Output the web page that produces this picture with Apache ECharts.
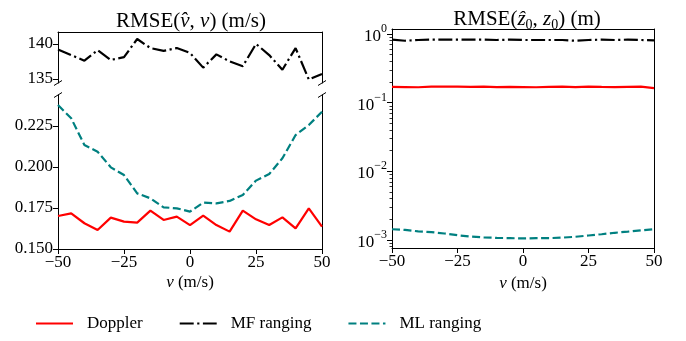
<!DOCTYPE html>
<html>
<head>
<meta charset="utf-8">
<script src="https://cdn.jsdelivr.net/npm/echarts@6/dist/echarts.min.js"></script>
<style>
html, body { margin: 0; padding: 0; background: #fff; }
#chart { width: 686px; height: 341px; }
</style>
</head>
<body>
<div id="chart"></div>
<script>
// velocity grid (m/s)
const velocity = [-50, -45, -40, -35, -30, -25, -20, -15, -10, -5, 0, 5, 10, 15, 20, 25, 30, 35, 40, 45, 50];

// RMSE of velocity (m/s)
const dopplerVel = [0.1701, 0.1717, 0.1657, 0.1616, 0.1691, 0.1667, 0.1661, 0.1734, 0.1677, 0.1697, 0.1646,
  0.1703, 0.1646, 0.1606, 0.1734, 0.1681, 0.1646, 0.1693, 0.1626, 0.1748, 0.1636];
const mlVel = [0.2378, 0.2297, 0.2134, 0.2093, 0.1998, 0.1951, 0.1839, 0.1809, 0.1754, 0.1748, 0.1728,
  0.1783, 0.1778, 0.1793, 0.1829, 0.1917, 0.1957, 0.2053, 0.2195, 0.2256, 0.2337];
const mfVel = [139.2, 138.4, 137.6, 139.1, 137.7, 138.1, 140.7, 139.4, 139.0, 139.4, 138.7,
  136.6, 138.5, 137.5, 136.8, 140.0, 138.4, 136.3, 139.4, 134.9, 135.7];

// RMSE of range (m)
const dopplerRange = [0.170, 0.169, 0.168, 0.171, 0.171, 0.172, 0.170, 0.171, 0.169, 0.170, 0.169,
  0.168, 0.170, 0.171, 0.169, 0.172, 0.170, 0.169, 0.170, 0.171, 0.163];
const mfRange = [0.83, 0.80, 0.82, 0.83, 0.83, 0.83, 0.83, 0.83, 0.82, 0.83, 0.82,
  0.82, 0.82, 0.82, 0.80, 0.82, 0.83, 0.82, 0.83, 0.82, 0.81];
const mlRange = [0.00143, 0.00140, 0.00133, 0.00130, 0.00124, 0.00117, 0.00112, 0.00109, 0.00107, 0.00106, 0.00105,
  0.00106, 0.00106, 0.00108, 0.00111, 0.00116, 0.00121, 0.00127, 0.00132, 0.00138, 0.00143];

// tick values
const velTopTicks = [135, 140];
const velBottomTicks = [0.150, 0.175, 0.200, 0.225];
const rangeMajorTicks = [0.001, 0.01, 0.1, 1];
const rangeMinorTicks = [0.0008, 0.0009,
  0.002, 0.003, 0.004, 0.005, 0.006, 0.007, 0.008, 0.009,
  0.02, 0.03, 0.04, 0.05, 0.06, 0.07, 0.08, 0.09,
  0.2, 0.3, 0.4, 0.5, 0.6, 0.7, 0.8, 0.9];

const FONT = 'Liberation Serif';
const RED = '#ff0000', BLACK = '#000000', TEAL = '#008080';
const LW = 2.2;

const chart = echarts.init(document.getElementById('chart'));

const pair = (xs, ys) => xs.map((x, i) => [x, ys[i]]);
const minus = v => String(v).replace('-', '\u2212');

const labelStyle = { fontFamily: FONT, fontSize: 17, color: '#000' };
const axisLine = { show: true, onZero: false, lineStyle: { color: '#000', width: 1 } };
const tick = { show: true, length: 5, lineStyle: { color: '#000', width: 1 } };

// plain spine (line only)
const spine = (extra) => Object.assign({
  type: 'value', axisLine: axisLine, axisTick: { show: false }, axisLabel: { show: false },
  splitLine: { show: false }
}, extra);

const xName = {
  name: '{i|v}{a| (m/s)}', nameLocation: 'middle', nameGap: 25,
  nameTextStyle: { rich: {
    i: { fontFamily: FONT, fontSize: 17, fontStyle: 'italic', color: '#000' },
    a: { fontFamily: FONT, fontSize: 17, color: '#000' }
  } }
};

const xBottom = (grid) => Object.assign({
  type: 'value', gridIndex: grid, min: -50, max: 50, interval: 25, position: 'bottom',
  axisLine: axisLine, axisTick: tick, splitLine: { show: false },
  axisLabel: Object.assign({ margin: 5, formatter: minus }, labelStyle)
}, xName);

const titleRich = {
  a: { fontFamily: FONT, fontSize: 21, fontWeight: 'normal', color: '#000', lineHeight: 26, verticalAlign: 'middle' },
  i: { fontFamily: FONT, fontSize: 21, fontWeight: 'normal', fontStyle: 'italic', color: '#000', lineHeight: 26, verticalAlign: 'middle' },
  s: { fontFamily: FONT, fontSize: 14, fontWeight: 'normal', color: '#000', lineHeight: 26, verticalAlign: 'bottom' }
};

const lineSeries = (name, data, color, type, xi, yi) => ({
  name: name, type: 'line', data: data, xAxisIndex: xi, yAxisIndex: yi,
  symbol: 'none', showSymbol: false, clip: true,
  lineStyle: { color: color, width: LW, type: type }, itemStyle: { color: color },
  emphasis: { disabled: true }
});

const DASH = [8, 3.5];
const DASHDOT = [14, 3.5, 2.2, 3.5];

chart.setOption({
  animation: false,
  backgroundColor: '#fff',
  title: [
    { text: '{a|RMSE(}{i|v\u0302}{a|, }{i|v}{a|) (m/s)}', left: 186, top: 3, textAlign: 'center',
      textStyle: { fontWeight: 'normal', rich: titleRich } },
    { text: '{a|RMSE(}{i|z\u0302}{s|0}{a|, }{i|z}{s|0}{a|) (m)}', left: 522, top: 1, textAlign: 'center',
      textStyle: { fontWeight: 'normal', rich: titleRich } }
  ],
  legend: {
    data: ['Doppler', 'MF ranging', 'ML ranging'],
    left: 35, top: 315, padding: 0, itemGap: 36, itemWidth: 37, itemHeight: 14,
    itemStyle: { opacity: 0 },
    textStyle: { fontFamily: FONT, fontSize: 17, color: '#000', padding: [0, 0, 0, 9] }
  },
  grid: [
    { left: 58, top: 32, width: 264, height: 51 },
    { left: 58, top: 95, width: 264, height: 154 },
    { left: 392, top: 29, width: 262, height: 219 }
  ],
  xAxis: [
    spine({ gridIndex: 0, min: -50, max: 50, position: 'top' }),
    xBottom(1),
    xBottom(2),
    spine({ gridIndex: 2, min: -50, max: 50, position: 'top' })
  ],
  yAxis: [
    { type: 'value', gridIndex: 0, min: 134.4, max: 141.7, position: 'left',
      axisLine: axisLine, splitLine: { show: false },
      axisTick: Object.assign({ customValues: velTopTicks }, tick),
      axisLabel: Object.assign({ customValues: velTopTicks, margin: 5, formatter: v => String(v) }, labelStyle) },
    spine({ gridIndex: 0, min: 134.4, max: 141.7, position: 'right' }),
    { type: 'value', gridIndex: 1, min: 0.15, max: 0.2439, position: 'left',
      axisLine: axisLine, splitLine: { show: false },
      axisTick: Object.assign({ customValues: velBottomTicks }, tick),
      axisLabel: Object.assign({ customValues: velBottomTicks, margin: 5, formatter: v => v.toFixed(3) }, labelStyle) },
    spine({ gridIndex: 1, min: 0.15, max: 0.2439, position: 'right' }),
    { type: 'log', gridIndex: 2, min: 0.000762, max: 1.186, position: 'left',
      axisLine: axisLine, splitLine: { show: false },
      axisTick: Object.assign({ customValues: rangeMajorTicks }, tick),
      axisLabel: {
        customValues: rangeMajorTicks, margin: 5,
        formatter: v => '{b|10}{e|' + minus(Math.round(Math.log10(v))) + '}',
        rich: {
          b: { fontFamily: FONT, fontSize: 17, color: '#000', lineHeight: 22, verticalAlign: 'bottom' },
          e: { fontFamily: FONT, fontSize: 12, color: '#000', lineHeight: 22, verticalAlign: 'top' }
        }
      } },
    { type: 'log', gridIndex: 2, min: 0.000762, max: 1.186, position: 'left',
      axisLine: { show: false, onZero: false }, splitLine: { show: false }, axisLabel: { show: false },
      axisTick: { show: true, length: 2.5, customValues: rangeMinorTicks, lineStyle: { color: '#000', width: 0.8 } } },
    spine({ gridIndex: 2, min: 0, max: 1, position: 'right' })
  ],
  graphic: [58, 322].flatMap(x => [83, 95].map(y => ({
    type: 'line', silent: true,
    shape: { x1: x - 4, y1: y + 2.5, x2: x + 4, y2: y - 2.5 },
    style: { stroke: '#000', lineWidth: 1 }
  }))),
  series: [
    lineSeries('Doppler', pair(velocity, dopplerVel), RED, 'solid', 1, 2),
    lineSeries('MF ranging', pair(velocity, mfVel), BLACK, DASHDOT, 0, 0),
    lineSeries('ML ranging', pair(velocity, mlVel), TEAL, DASH, 1, 2),
    lineSeries('Doppler', pair(velocity, dopplerRange), RED, 'solid', 2, 4),
    lineSeries('MF ranging', pair(velocity, mfRange), BLACK, DASHDOT, 2, 4),
    lineSeries('ML ranging', pair(velocity, mlRange), TEAL, DASH, 2, 4)
  ]
});
</script>
</body>
</html>
